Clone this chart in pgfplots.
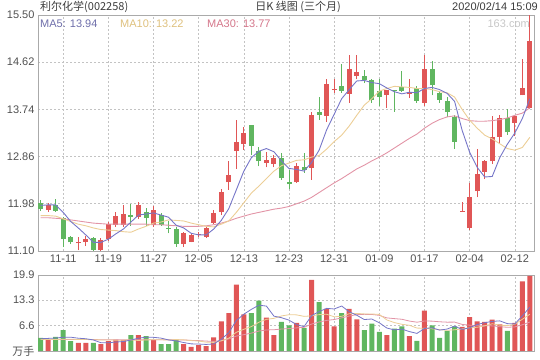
\documentclass[border=0pt]{standalone}
\usepackage{pgfplots}
\pgfplotsset{compat=1.18}
\usepackage{pgfplotstable}
\usepackage{fontspec}
\setmainfont{Liberation Sans}
\newfontfamily\cjk{Noto Sans CJK SC}
\definecolor{cred}{RGB}{224,86,86}
\definecolor{cgreen}{RGB}{96,182,96}
\definecolor{cma5}{RGB}{118,118,200}
\definecolor{cma10}{RGB}{236,206,150}
\definecolor{cma30}{RGB}{226,148,166}
\definecolor{tma5}{RGB}{110,110,170}
\definecolor{tma10}{RGB}{222,192,125}
\definecolor{tma30}{RGB}{212,118,138}
\definecolor{gridgray}{RGB}{195,195,195}
\definecolor{framegray}{RGB}{170,170,170}
\definecolor{tickgray}{RGB}{80,80,80}
\definecolor{hdrgray}{RGB}{60,60,60}

\pgfplotstableread{
x o h l c
1 11.87 11.99 11.83 11.96
5 11.24 11.37 11.11 11.26
6 11.27 11.38 11.19 11.33
8 11.11 11.34 11.10 11.31
9 11.32 11.64 11.29 11.60
10 11.59 11.82 11.55 11.75
11 11.59 11.96 11.55 11.79
13 11.73 12.02 11.69 11.96
15 11.59 11.93 11.55 11.87
19 11.23 11.46 11.17 11.43
20 11.27 11.43 11.26 11.40
21 11.40 11.46 11.36 11.42
22 11.37 11.57 11.34 11.52
23 11.63 11.87 11.60 11.80
24 11.83 12.25 11.77 12.20
25 12.38 12.77 12.24 12.52
26 12.97 13.55 12.63 13.14
27 13.10 13.41 12.99 13.30
30 12.75 12.94 12.66 12.80
31 12.73 12.89 12.66 12.83
34 12.38 12.75 12.37 12.69
36 12.65 13.70 12.43 13.64
38 13.62 14.31 13.51 14.22
39 14.10 14.31 14.05 14.12
41 14.03 14.76 13.86 14.50
42 14.36 14.76 14.30 14.43
46 14.01 14.11 13.77 14.10
49 14.02 14.31 13.95 14.06
51 13.86 14.76 13.80 14.50
56 11.83 12.02 11.83 11.85
57 11.52 12.37 11.49 12.10
58 12.21 13.00 12.10 12.54
59 12.58 12.80 12.44 12.77
60 12.77 13.61 12.73 13.23
61 13.23 13.64 13.11 13.58
63 13.49 13.62 13.24 13.61
64 14.00 14.68 14.00 14.14
65 13.77 15.50 13.74 15.01
}\redtab

\pgfplotstableread{
x o h l c
0 12.00 12.05 11.85 11.88
2 11.96 12.07 11.83 11.85
3 11.71 11.74 11.17 11.32
4 11.37 11.38 11.23 11.26
7 11.34 11.37 11.10 11.12
12 11.77 11.98 11.57 11.73
14 11.82 11.90 11.57 11.71
16 11.77 11.80 11.57 11.59
17 11.53 11.65 11.43 11.51
18 11.51 11.55 11.18 11.23
28 13.44 13.44 12.89 13.06
29 12.97 13.04 12.68 12.77
32 12.83 12.92 12.43 12.46
33 12.39 12.61 12.25 12.34
35 12.66 12.93 12.56 12.61
37 13.69 13.98 13.55 13.64
40 14.18 14.58 14.05 14.08
43 14.37 14.47 14.23 14.28
44 14.28 14.31 13.86 13.92
45 14.08 14.30 13.80 13.98
47 14.10 14.11 13.70 14.08
48 14.15 14.45 14.07 14.09
50 14.14 14.17 13.86 13.90
52 14.50 14.65 14.00 14.19
53 14.05 14.08 13.86 13.92
54 13.89 13.97 13.59 13.69
55 13.59 13.64 13.01 13.14
62 13.58 13.75 13.27 13.31
}\greentab

\pgfplotstableread{
x m5 m10 m30
0 11.95 11.76 11.72
1 11.96 11.76 11.72
2 11.96 11.75 11.71
3 11.82 11.70 11.70
4 11.65 11.65 11.68
5 11.53 11.60 11.66
6 11.40 11.57 11.64
7 11.26 11.53 11.62
8 11.26 11.50 11.61
9 11.32 11.49 11.60
10 11.42 11.48 11.60
11 11.51 11.46 11.60
12 11.64 11.45 11.60
13 11.77 11.51 11.60
14 11.79 11.56 11.60
15 11.81 11.62 11.59
16 11.77 11.64 11.59
17 11.73 11.68 11.58
18 11.58 11.67 11.57
19 11.53 11.66 11.56
20 11.43 11.62 11.56
21 11.40 11.59 11.56
22 11.40 11.56 11.57
23 11.51 11.55 11.59
24 11.67 11.60 11.62
25 11.89 11.66 11.66
26 12.24 11.82 11.71
27 12.59 12.00 11.75
28 12.84 12.18 11.79
29 12.96 12.31 11.82
30 13.01 12.45 11.85
31 12.95 12.59 11.88
32 12.78 12.69 11.90
33 12.64 12.74 11.93
34 12.62 12.79 11.98
35 12.59 12.80 12.03
36 12.75 12.85 12.10
37 12.98 12.88 12.19
38 13.36 13.00 12.28
39 13.65 13.14 12.37
40 13.94 13.26 12.45
41 14.11 13.43 12.54
42 14.27 13.63 12.63
43 14.28 13.82 12.70
44 14.24 13.94 12.78
45 14.22 14.08 12.85
46 14.14 14.13 12.93
47 14.07 14.17 13.02
48 14.03 14.16 13.11
49 14.06 14.15 13.20
50 14.05 14.13 13.28
51 14.13 14.13 13.39
52 14.15 14.11 13.48
53 14.11 14.07 13.55
54 14.04 14.05 13.60
55 13.89 13.97 13.62
56 13.35 13.74 13.57
57 12.94 13.54 13.53
58 12.66 13.39 13.52
59 12.48 13.26 13.52
60 12.49 13.19 13.53
61 12.84 13.10 13.55
62 13.09 13.01 13.58
63 13.30 12.98 13.63
64 13.57 13.03 13.67
65 13.94 13.22 13.77
}\matab

\pgfplotstableread{
x v
1 2.85
5 2.15
6 2.15
8 1.80
9 2.60
10 3.00
11 2.85
13 4.15
15 2.85
19 1.80
20 1.10
21 1.55
22 1.30
23 3.55
24 7.77
25 9.93
26 17.36
27 9.58
30 8.73
31 4.15
34 7.34
36 18.65
38 11.05
39 6.48
41 11.05
42 8.29
46 4.15
49 3.89
51 10.60
56 6.30
57 8.89
58 7.77
59 7.60
60 8.20
61 7.00
63 7.34
64 18.20
65 19.70
}\redvol

\pgfplotstableread{
x v
0 3.45
2 3.70
3 5.44
4 2.60
7 2.15
12 4.15
14 3.90
16 1.80
17 1.80
18 2.85
28 9.93
29 13.20
32 7.60
33 6.74
35 6.05
37 12.78
40 9.93
43 5.44
44 7.17
45 5.00
47 5.87
48 6.48
50 2.68
52 6.74
53 3.45
54 5.27
55 6.48
62 5.27
}\greenvol

\pgfplotstableread{
x m5 m10 m20
0 3.20 3.00 3.00
1 3.30 3.00 3.00
2 3.40 3.00 3.00
3 3.60 3.10 3.00
4 3.61 3.10 3.00
5 3.35 3.00 3.00
6 3.21 3.00 3.00
7 2.90 2.95 3.00
8 2.17 2.90 2.95
9 2.17 2.89 2.95
10 2.34 2.84 2.95
11 2.48 2.84 2.95
12 2.88 2.89 2.95
13 3.35 2.76 2.95
14 3.61 2.89 2.95
15 3.58 2.96 2.95
16 3.37 2.93 2.93
17 2.90 2.89 2.92
18 2.64 3.00 2.91
19 2.22 2.92 2.90
20 1.87 2.73 2.78
21 1.82 2.60 2.72
22 1.72 2.31 2.60
23 1.86 2.25 2.51
24 3.05 2.64 2.76
25 4.82 3.35 3.15
26 7.98 4.90 3.91
27 9.64 5.68 4.28
28 10.91 6.39 4.69
29 12.00 7.53 5.22
30 11.76 8.29 5.51
31 9.12 8.55 5.57
32 8.72 9.18 5.75
33 8.08 9.50 5.87
34 6.91 9.46 6.05
35 6.38 9.07 6.21
36 9.28 9.20 7.05
37 10.31 9.52 7.60
38 11.17 9.63 8.01
39 11.00 8.96 8.24
40 11.78 9.08 8.68
41 10.26 9.77 9.16
42 9.36 9.84 9.51
43 8.24 9.71 9.60
44 8.38 9.69 9.57
45 7.39 9.58 9.33
46 6.01 8.13 8.67
47 5.53 7.44 8.48
48 5.73 6.99 8.31
49 5.08 6.73 7.84
50 4.61 6.00 7.54
51 5.90 5.96 7.86
52 6.08 5.80 7.82
53 5.47 5.60 7.65
54 5.75 5.41 7.55
55 6.51 5.56 7.57
56 5.65 5.78 6.96
57 6.08 6.08 6.76
58 6.94 6.21 6.60
59 7.41 6.58 6.65
60 7.75 7.13 6.57
61 7.89 6.77 6.36
62 7.17 6.62 6.21
63 7.08 7.01 6.31
64 9.20 8.31 6.86
65 11.50 9.63 7.59
}\volma

\begin{document}
\begin{tikzpicture}
\useasboundingbox (0,0) rectangle (540bp,360bp);
\pgfplotsset{
  kbase/.style={
    scale only axis, width=496bp, xmin=-0.35, xmax=65.55, anchor=south west,
    axis line style={draw=framegray, line width=0.8bp},
    xtick={3,9,...,63}, major tick length=0pt,
    xmajorgrids, ymajorgrids,
    grid style={draw=gridgray, dash pattern=on 2bp off 2bp, line width=0.6bp},
    ticklabel style={font=\fontsize{11bp}{13bp}\selectfont, text=tickgray},
    /pgf/number format/assume math mode=true,
  },
  wick/.style={forget plot, draw=none, no markers,
    error bars/.cd, y dir=plus, y explicit, error mark=none,
    error bar style={draw=#1, line width=1bp}},
  body/.style={forget plot, draw=none, no markers,
    error bars/.cd, y dir=plus, y explicit, error mark=none,
    error bar style={draw=#1, line width=5bp}},
}
\begin{axis}[kbase, at={(38bp,109bp)}, height=236bp, ymin=11.10, ymax=15.50,
  ytick={11.10,11.98,12.86,13.74,14.62,15.50},
  yticklabels={11.10,11.98,12.86,13.74,14.62,15.50},
  xticklabels={11-11,11-19,11-27,12-05,12-13,12-23,12-31,01-09,01-17,02-04,02-12}]
  \addplot[wick=cred] table[x=x, y=l, y error plus expr={\thisrow{h}-\thisrow{l}}]{\redtab};
  \addplot[body=cred] table[x=x, y=o, y error plus expr={\thisrow{c}-\thisrow{o}}]{\redtab};
  \addplot[wick=cgreen] table[x=x, y=l, y error plus expr={\thisrow{h}-\thisrow{l}}]{\greentab};
  \addplot[body=cgreen] table[x=x, y=c, y error plus expr={\thisrow{o}-\thisrow{c}}]{\greentab};
  \addplot[cma30, line width=0.9bp, mark=none] table[x=x, y=m30]{\matab};
  \addplot[cma10, line width=0.9bp, mark=none] table[x=x, y=m10]{\matab};
  \addplot[cma5, line width=0.9bp, mark=none] table[x=x, y=m5]{\matab};
\end{axis}
\begin{axis}[kbase, at={(38bp,9bp)}, height=76bp, ymin=0, ymax=19.9,
  ytick={0,6.6,13.3,19.9}, yticklabels={{\cjk 万手},6.6,13.3,19.9},
  xticklabels={}]
  \addplot[ybar, bar width=5bp, bar shift=0pt, fill=cred, draw=none] table[x=x, y=v]{\redvol};
  \addplot[ybar, bar width=5bp, bar shift=0pt, fill=cgreen, draw=none] table[x=x, y=v]{\greenvol};
  \addplot[cma30, line width=0.8bp, mark=none] table[x=x, y=m20]{\volma};
  \addplot[cma10, line width=0.8bp, mark=none] table[x=x, y=m10]{\volma};
  \addplot[cma5, line width=0.8bp, mark=none] table[x=x, y=m5]{\volma};
\end{axis}
\begin{scope}[every node/.style={font=\fontsize{11bp}{13bp}\selectfont, inner sep=0pt}]
  \node[anchor=west, text=hdrgray] at (40bp,353bp) {\cjk 利尔化学(002258)};
  \node[anchor=center, text=hdrgray] at (298bp,353bp) {\cjk 日K 线图 (三个月)};
  \node[anchor=east, text=hdrgray] at (538bp,353bp) {2020/02/14 15:09};
  \node[anchor=west, text=tma5] at (40bp,336bp) {MA5: 13.94};
  \node[anchor=west, text=tma10] at (120bp,336bp) {MA10: 13.22};
  \node[anchor=west, text=tma30] at (207bp,336bp) {MA30: 13.77};
  \node[anchor=east, text=black!22] at (530bp,336bp) {163.com};
\end{scope}
\end{tikzpicture}
\end{document}
